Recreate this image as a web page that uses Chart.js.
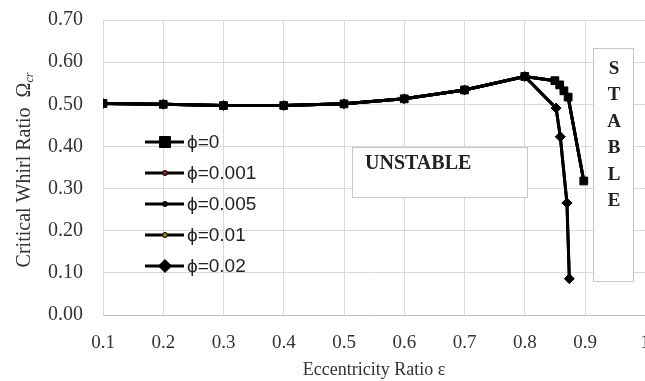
<!DOCTYPE html>
<html>
<head>
<meta charset="utf-8">
<script src="https://cdn.jsdelivr.net/npm/chart.js@4/dist/chart.umd.min.js"></script>
<style>
  html, body { margin: 0; padding: 0; background: #fff; overflow: hidden; }
  canvas { display: block; }
</style>
</head>
<body>
<canvas id="chart" width="650" height="381"></canvas>
<script>
// eccentricity ratio (x) and critical whirl ratio (y)
const epsPhi0 = [0.1, 0.2, 0.3, 0.4, 0.5, 0.6, 0.7, 0.8, 0.85, 0.858, 0.865, 0.872, 0.898];
const omegaPhi0 = [0.502, 0.500, 0.497, 0.497, 0.501, 0.513, 0.534, 0.566, 0.556, 0.546, 0.532, 0.517, 0.318];

const epsPhi002 = [0.1, 0.2, 0.3, 0.4, 0.5, 0.6, 0.7, 0.8, 0.852, 0.859, 0.870, 0.874];
const omegaPhi002 = [0.502, 0.500, 0.497, 0.497, 0.501, 0.513, 0.534, 0.566, 0.491, 0.423, 0.266, 0.086];

// the intermediate cases sit under the two visible curves
const epsPhi0001 = epsPhi0, omegaPhi0001 = omegaPhi0;
const epsPhi0005 = epsPhi0, omegaPhi0005 = omegaPhi0;
const epsPhi001 = epsPhi002, omegaPhi001 = omegaPhi002;

const seriesLabels = ['ϕ=0', 'ϕ=0.001', 'ϕ=0.005', 'ϕ=0.01', 'ϕ=0.02'];
const xTicks = [0.1, 0.2, 0.3, 0.4, 0.5, 0.6, 0.7, 0.8, 0.9, 1.0];

function pts(xs, ys) {
  return xs.map((x, i) => ({ x: x, y: ys[i] }));
}

const serif = "'Liberation Serif', 'Times New Roman', serif";
const sans = "'Liberation Sans', Arial, sans-serif";

// legend in the plot + the two annotation boxes + y-axis title with subscript
const overlay = {
  id: 'overlay',
  afterDraw(chart) {
    const ctx = chart.ctx;
    ctx.save();

    // legend
    const ys = [142, 173, 204, 235, 266];
    chart.data.datasets.forEach((ds, i) => {
      const y = ys[i];
      ctx.strokeStyle = '#000';
      ctx.lineWidth = 3;
      ctx.beginPath();
      ctx.moveTo(145, y);
      ctx.lineTo(184, y);
      ctx.stroke();
      drawMarker(ctx, ds.pointStyle, ds.pointRadius, ds.pointBackgroundColor, 165, y);
      ctx.fillStyle = '#222';
      ctx.font = '19px ' + sans;
      ctx.textBaseline = 'middle';
      ctx.textAlign = 'left';
      ctx.fillText(ds.label, 187, y + 1);
    });

    // UNSTABLE box
    ctx.fillStyle = '#fff';
    ctx.strokeStyle = '#c8c8c8';
    ctx.lineWidth = 1;
    ctx.fillRect(352, 147, 175, 50);
    ctx.strokeRect(352.5, 147.5, 175, 50);
    ctx.fillStyle = '#222';
    ctx.font = 'bold 20px ' + serif;
    ctx.textAlign = 'left';
    ctx.textBaseline = 'middle';
    ctx.fillText('UNSTABLE', 365, 164);

    // STABLE box
    ctx.fillStyle = '#fff';
    ctx.fillRect(593, 48, 40, 233);
    ctx.strokeRect(593.5, 48.5, 40, 233);
    ctx.fillStyle = '#222';
    ctx.textAlign = 'center';
    ctx.font = 'bold 19px ' + serif;
    'STABLE'.split('').forEach((c, i) => {
      ctx.fillText(c, 614, 69 + i * 26.4);
    });

    // y title
    ctx.translate(25, 170);
    ctx.rotate(-Math.PI / 2);
    ctx.fillStyle = '#333';
    ctx.textBaseline = 'middle';
    ctx.textAlign = 'left';
    const main = 'Critical Whirl Ratio  Ω';
    ctx.font = '20px ' + serif;
    const w1 = ctx.measureText(main).width;
    ctx.font = 'italic 12px ' + serif;
    const w2 = ctx.measureText('cr').width;
    const x0 = -(w1 + w2) / 2;
    ctx.font = '20px ' + serif;
    ctx.fillText(main, x0, 0);
    ctx.font = 'italic 12px ' + serif;
    ctx.fillText('cr', x0 + w1, 5);

    ctx.restore();
  }
};

function drawMarker(ctx, style, r, color, x, y) {
  ctx.fillStyle = color;
  ctx.strokeStyle = '#000';
  ctx.lineWidth = 1;
  ctx.beginPath();
  if (style === 'rect') {
    ctx.rect(x - r, y - r, 2 * r, 2 * r);
  } else if (style === 'rectRot') {
    ctx.moveTo(x, y - r * 1.3);
    ctx.lineTo(x + r * 1.3, y);
    ctx.lineTo(x, y + r * 1.3);
    ctx.lineTo(x - r * 1.3, y);
    ctx.closePath();
  } else {
    ctx.arc(x, y, r, 0, Math.PI * 2);
  }
  ctx.fill();
  ctx.stroke();
}

function series(label, xs, ys, style, r, color, order) {
  return {
    label: label,
    data: pts(xs, ys),
    borderColor: '#000',
    borderWidth: 3,
    pointStyle: style,
    pointRadius: r,
    pointBackgroundColor: color,
    pointBorderColor: '#000',
    pointBorderWidth: 1,
    tension: 0,
    fill: false,
    order: order
  };
}

new Chart(document.getElementById('chart'), {
  type: 'line',
  data: {
    datasets: [
      series(seriesLabels[0], epsPhi0, omegaPhi0, 'rect', 5.5, '#000', 1),
      series(seriesLabels[1], epsPhi0001, omegaPhi0001, 'circle', 2.5, '#7a2a18', 5),
      series(seriesLabels[2], epsPhi0005, omegaPhi0005, 'circle', 2.5, '#111', 4),
      series(seriesLabels[3], epsPhi001, omegaPhi001, 'circle', 2.5, '#9a7a20', 3),
      series(seriesLabels[4], epsPhi002, omegaPhi002, 'rectRot', 5, '#000', 2)
    ]
  },
  options: {
    responsive: false,
    animation: false,
    layout: { autoPadding: false, padding: { top: 20, right: 0, left: 0, bottom: 0 } },
    plugins: {
      legend: { display: false },
      tooltip: { enabled: false }
    },
    scales: {
      x: {
        type: 'linear',
        min: 0.1,
        max: 1.0,
        afterBuildTicks: s => { s.ticks = xTicks.map(v => ({ value: v })); },
        ticks: {
          color: '#333',
          font: { family: serif, size: 19 },
          padding: 0,
          maxRotation: 0,
          callback: v => (Math.abs(v - 1) < 1e-9 ? '1' : v.toFixed(1))
        },
        grid: { color: '#d9d9d9', lineWidth: 1, drawTicks: true, tickLength: 17, tickColor: 'rgba(0,0,0,0)' },
        border: { color: '#bfbfbf' },
        title: {
          display: true,
          text: 'Eccentricity Ratio ε',
          color: '#333',
          font: { family: serif, size: 18 },
          padding: { top: 0, bottom: 0 }
        },
        afterFit: s => { s.height = 66; }
      },
      y: {
        min: 0,
        max: 0.7,
        ticks: {
          stepSize: 0.1,
          color: '#333',
          font: { family: serif, size: 20 },
          padding: 0,
          callback: v => v.toFixed(2)
        },
        grid: { color: '#d9d9d9', lineWidth: 1, drawTicks: true, tickLength: 20, tickColor: 'rgba(0,0,0,0)' },
        border: { display: false },
        afterFit: s => { s.width = 103; }
      }
    }
  },
  plugins: [overlay]
});
</script>
</body>
</html>
